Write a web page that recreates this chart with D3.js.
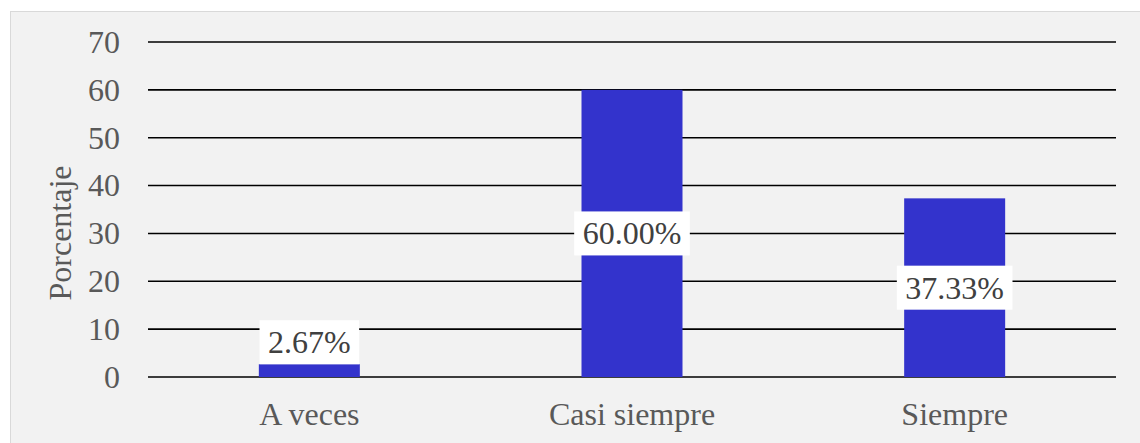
<!DOCTYPE html>
<html>
<head>
<meta charset="utf-8">
<script src="https://cdn.jsdelivr.net/npm/d3@7"></script>
<style>
  body { margin: 0; background: #ffffff; }
  svg text { font-family: "Liberation Serif", "Times New Roman", serif; }
</style>
</head>
<body>
<svg id="chart" width="1140" height="443"></svg>
<script>
// chart data
var categories = ["A veces", "Casi siempre", "Siempre"];
var values = [2.67, 60.00, 37.33];
var yTicks = [0, 10, 20, 30, 40, 50, 60, 70];
var yLabel = "Porcentaje";

var svg = d3.select("#chart");
var fontSize = "32px";

// panel background
svg.append("rect")
    .attr("x", 10.5).attr("y", 11.5)
    .attr("width", 1140).attr("height", 450)
    .style("fill", "#f2f2f2")
    .style("stroke", "#d9d9d9")
    .style("stroke-width", 1);

var plot = {left: 148, right: 1116, top: 42, bottom: 377};

var x = d3.scaleBand()
    .domain(categories)
    .range([plot.left, plot.right])
    .paddingInner(0.687)
    .paddingOuter(0.3435);

var y = d3.scaleLinear()
    .domain([0, 70])
    .range([plot.bottom, plot.top]);

// gridlines
svg.selectAll(".grid").data(yTicks).enter().append("line")
    .classed("grid", true)
    .attr("x1", plot.left).attr("x2", plot.right)
    .attr("y1", function (d) { return y(d); })
    .attr("y2", function (d) { return y(d); })
    .style("stroke", "#000")
    .style("stroke-width", 1.6);

// y tick labels
svg.selectAll(".ytick").data(yTicks).enter().append("text")
    .classed("ytick", true)
    .attr("x", 120)
    .attr("y", function (d) { return y(d); })
    .attr("dy", "0.34em")
    .style("text-anchor", "end")
    .style("font-size", fontSize)
    .style("fill", "#595959")
    .text(function (d) { return d; });

// y axis title
svg.append("text")
    .attr("transform", "translate(71,233) rotate(-90)")
    .style("text-anchor", "middle")
    .style("font-size", fontSize)
    .style("fill", "#595959")
    .text(yLabel);

// bars
svg.selectAll(".bar").data(values).enter().append("rect")
    .classed("bar", true)
    .attr("x", function (d, i) { return x(categories[i]); })
    .attr("y", function (d) { return y(d); })
    .attr("width", x.bandwidth())
    .attr("height", function (d) { return y(0) - y(d); })
    .style("fill", "#3333cc");

// category labels
svg.selectAll(".xtick").data(categories).enter().append("text")
    .classed("xtick", true)
    .attr("x", function (d) { return x(d) + x.bandwidth() / 2; })
    .attr("y", 425)
    .style("text-anchor", "middle")
    .style("font-size", fontSize)
    .style("fill", "#595959")
    .text(function (d) { return d; });

// data labels with white boxes
var boxH = 44;
var lbl = svg.selectAll(".dlabel").data(values).enter().append("g")
    .classed("dlabel", true);

lbl.each(function (d, i) {
    var g = d3.select(this);
    var cx = x(categories[i]) + x.bandwidth() / 2;
    var barH = y(0) - y(d);
    // small bars: box sits on top of the bar
    var cy = barH < boxH ? y(d) - boxH / 2 : (y(d) + y(0)) / 2;
    var t = g.append("text")
        .attr("x", cx)
        .attr("y", cy)
        .attr("dy", "0.34em")
        .style("text-anchor", "middle")
        .style("font-size", fontSize)
        .style("fill", "#404040")
        .text(d.toFixed(2) + "%");
    var w = t.node().getComputedTextLength() + 17;
    g.insert("rect", "text")
        .attr("x", cx - w / 2)
        .attr("y", cy - boxH / 2)
        .attr("width", w)
        .attr("height", boxH)
        .style("fill", "#fff");
});
</script>
</body>
</html>
